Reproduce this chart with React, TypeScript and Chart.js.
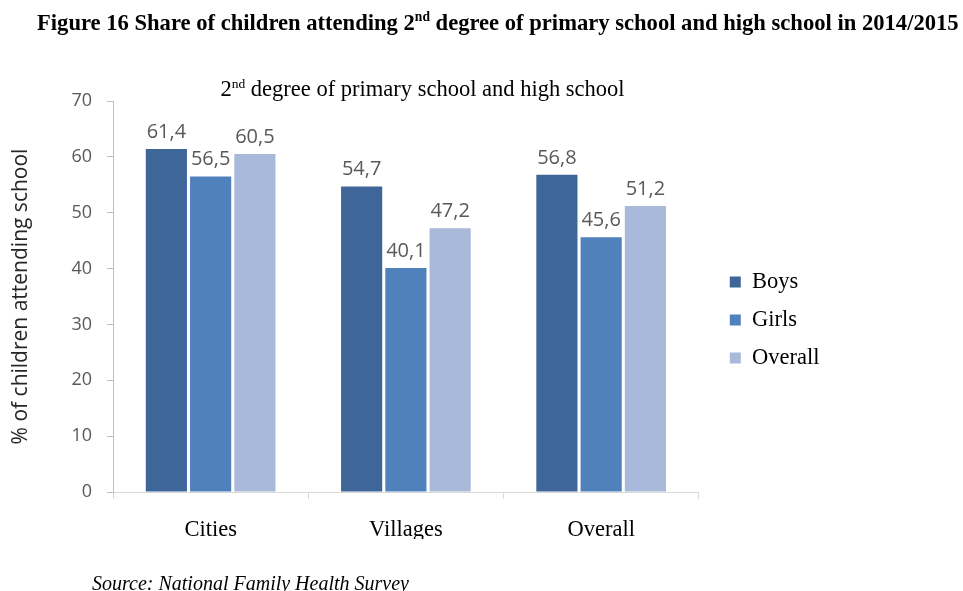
import React, { useEffect, useRef } from 'react';
import { Chart, registerables } from 'chart.js';

Chart.register(...registerables);

const categories = ['Cities', 'Villages', 'Overall'];
const seriesNames = ['Boys', 'Girls', 'Overall'];
const boys = [61.4, 54.7, 56.8];
const girls = [56.5, 40.1, 45.6];
const overall = [60.5, 47.2, 51.2];
const seriesColors = ['#3F6699', '#4F81BD', '#A8B9D9'];
const yMin = 0;
const yMax = 70;
const yStep = 10;

const titleText = 'Figure 16 Share of children attending ';
const titleRest = ' degree of primary school and high school in 2014/2015';
const subtitleRest = ' degree of primary school and high school';
const yAxisTitle = '% of children attending school';
const sourceText = 'Source: National Family Health Survey';

const SANS = '"Open Sans", sans-serif';
const SERIF = '"Liberation Serif", "Times New Roman", serif';

const valueLabels = {
  id: 'valueLabels',
  afterDatasetsDraw(chart: any) {
    const ctx = chart.ctx;
    ctx.save();
    ctx.font = '20px ' + SANS;
    ctx.fillStyle = '#595959';
    ctx.textAlign = 'center';
    ctx.textBaseline = 'alphabetic';
    chart.data.datasets.forEach((ds: any, i: number) => {
      const meta = chart.getDatasetMeta(i);
      meta.data.forEach((bar: any, j: number) => {
        const v = ds.data[j] as number;
        ctx.fillText(v.toFixed(1).replace('.', ','), bar.x, bar.y - 11);
      });
    });
    ctx.restore();
  },
};

const legendShift = {
  id: 'legendShift',
  afterLayout(chart: any) {
    const l = chart.legend;
    if (l) {
      l.left += 15.5;
      l.right += 15.5;
    }
  },
};

export default function App() {
  const ref = useRef<HTMLCanvasElement | null>(null);

  useEffect(() => {
    document.body.style.margin = '0';
    const canvas = ref.current;
    if (!canvas) return;
    const chart = new Chart(canvas, {
      type: 'bar',
      data: {
        labels: categories,
        datasets: [
          { label: seriesNames[0], data: boys, backgroundColor: seriesColors[0] },
          { label: seriesNames[1], data: girls, backgroundColor: seriesColors[1] },
          { label: seriesNames[2], data: overall, backgroundColor: seriesColors[2] },
        ],
      },
      options: {
        animation: false,
        responsive: false,
        devicePixelRatio: 1,
        datasets: {
          bar: { categoryPercentage: 0.68, barPercentage: 0.93, borderWidth: 0 },
        },
        layout: { padding: { left: 0, top: 101, right: 149, bottom: 52 } },
        plugins: {
          legend: {
            display: true,
            position: 'right',
            align: 'center',
            labels: {
              boxWidth: 11,
              boxHeight: 11,
              padding: 15.5,
              color: '#000000',
              font: { family: SERIF, size: 22.5 },
            },
          },
          title: { display: false },
          tooltip: { enabled: false },
        },
        scales: {
          x: {
            offset: true,
            grid: {
              display: true,
              offset: true,
              drawOnChartArea: false,
              drawTicks: true,
              tickLength: 7,
              color: '#D9D9D9',
            },
            border: { display: true, color: '#D9D9D9', width: 1 },
            ticks: { color: '#000000', font: { family: SERIF, size: 22.5 }, padding: 18 },
            afterFit(scale: any) {
              scale.height = 47;
            },
          },
          y: {
            min: yMin,
            max: yMax,
            ticks: {
              stepSize: yStep,
              color: '#595959',
              font: { family: SANS, size: 18 },
              padding: 15,
            },
            grid: {
              display: true,
              drawOnChartArea: false,
              drawTicks: true,
              tickLength: 6,
              color: '#BFBFBF',
            },
            border: { display: true, color: '#BFBFBF', width: 1 },
            title: {
              display: true,
              text: yAxisTitle,
              color: '#262626',
              font: { family: SANS, size: 21 },
              padding: { top: 8, bottom: 0 },
            },
            afterFit(scale: any) {
              scale.width = 113;
            },
          },
        },
      },
      plugins: [valueLabels, legendShift],
    } as any);
    return () => chart.destroy();
  }, []);

  return (
    <div
      style={{
        position: 'fixed',
        left: 0,
        top: 0,
        width: 963,
        height: 591,
        overflow: 'hidden',
        background: '#ffffff',
      }}
    >
      <canvas
        ref={ref}
        width={963}
        height={591}
        style={{ position: 'absolute', left: 0, top: 0, width: 963, height: 591, display: 'block' }}
      />
      <div
        style={{
          position: 'absolute',
          left: 37,
          top: 12,
          whiteSpace: 'nowrap',
          fontFamily: SERIF,
          fontWeight: 'bold',
          fontSize: 22.6,
          lineHeight: '22.6px',
          color: '#000',
        }}
      >
        {titleText}2<sup style={{ fontSize: '0.6em', verticalAlign: 'super', lineHeight: 0 }}>nd</sup>
        {titleRest}
      </div>
      <div
        style={{
          position: 'absolute',
          left: 0,
          width: 845,
          top: 78,
          textAlign: 'center',
          whiteSpace: 'nowrap',
          fontFamily: SERIF,
          fontSize: 22.5,
          lineHeight: '22.5px',
          color: '#000',
        }}
      >
        2<sup style={{ fontSize: '0.6em', verticalAlign: 'super', lineHeight: 0 }}>nd</sup>
        {subtitleRest}
      </div>
      <div
        style={{
          position: 'absolute',
          left: 92,
          top: 573,
          whiteSpace: 'nowrap',
          fontFamily: SERIF,
          fontStyle: 'italic',
          fontSize: 20,
          lineHeight: '20px',
          color: '#000',
        }}
      >
        {sourceText}
      </div>
    </div>
  );
}
